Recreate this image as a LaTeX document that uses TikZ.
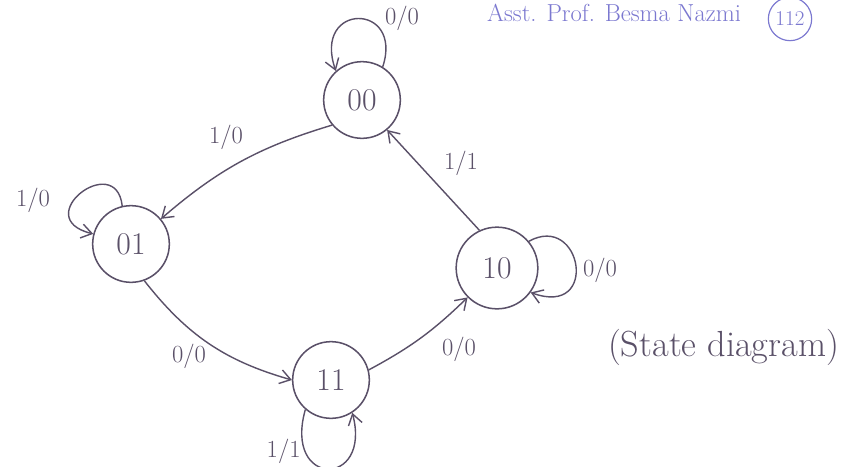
\documentclass[tikz,border=0pt]{standalone}
\usetikzlibrary{arrows.meta,shapes.geometric}
\definecolor{ink}{HTML}{5A5068}
\definecolor{pen}{HTML}{7B78D0}
\begin{document}
\begin{tikzpicture}[x=0.03cm,y=-0.03cm,
  state/.style={circle,draw=ink,line width=1.3pt,minimum size=2.3cm,inner sep=0pt,
    text=ink,font=\fontsize{27}{29}\selectfont},
  conn/.style={draw=ink,line width=1.2pt,-{Straight Barb[length=9pt,width=12pt,line width=1.2pt]}},
  lbl/.style={text=ink,font=\fontsize{21}{23}\selectfont,inner sep=1pt}]
\useasboundingbox[fill=white] (0,0) rectangle (854,466);
% states
\node[state] (n00) at (362,100) {00};
\node[state] (n01) at (131,244) {01};
\node[state,minimum size=2.45cm] (n10) at (497,268) {10};
\node[state] (n11) at (331,380) {11};
% transitions between states
\draw[conn] (n00.220) to[bend right=12] (n01.40);
\draw[conn] (n10.115) -- (n00.-50);
\draw[conn] (n01.-70) to[bend right=18] (n11.180);
\draw[conn] (n11.15) to[bend right=8] (n10.-135);
% self loops
\draw[conn] (n00.58) .. controls (404,2) and (312,2) .. (n00.132);
\draw[conn] (n01.103) .. controls (116,150) and (28,218) .. (n01.165);
\draw[conn] (n10.40) .. controls (582,212) and (600,318) .. (n10.-36);
\draw[conn] (n11.-131) .. controls (283,488) and (372,488) .. (n11.-57);
% labels
\node[lbl] (l1) at (226,137) {1/0};
\node[lbl] (l2) at (461,163) {1/1};
\node[lbl] (l3) at (189,356) {0/0};
\node[lbl] (l4) at (459,349) {0/0};
\node[lbl] (l5) at (402,18) {0/0};
\node[lbl] (l6) at (33,200) {1/0};
\node[lbl] (l7) at (600,270) {0/0};
\node[lbl,anchor=south east] (l8) at (302,465) {1/1};
% caption
\node[text=ink,font=\fontsize{31}{34}\selectfont,anchor=west] (cap) at (604,347) {(State diagram)};
% author note
\node[text=pen,font=\fontsize{21}{23}\selectfont] (auth) at (614,13) {Asst. Prof. Besma Nazmi};
\node[circle,draw=pen,line width=1pt,text=pen,font=\fontsize{18}{20}\selectfont,inner sep=1pt,minimum size=1.3cm] (num) at (790,19) {112};
\end{tikzpicture}
\end{document}
